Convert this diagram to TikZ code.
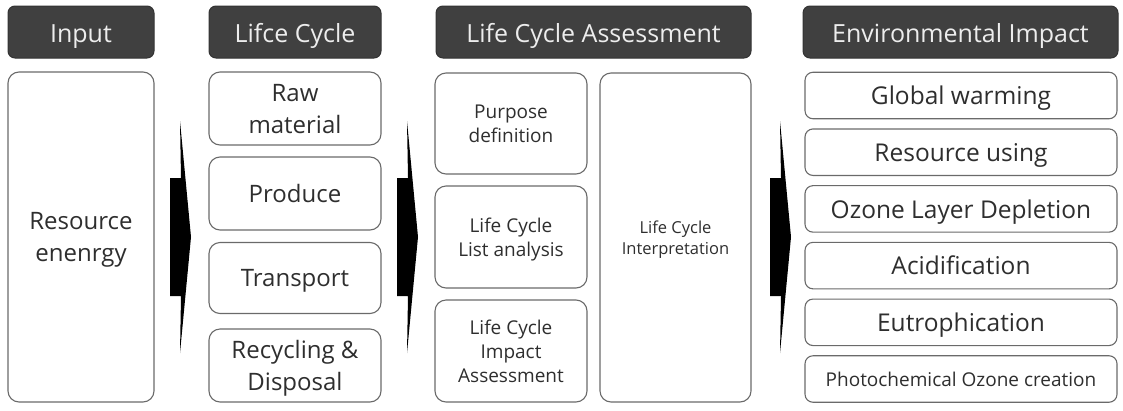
\documentclass[tikz,border=0pt]{standalone}
\usepackage{fontspec}
\setmainfont{Open Sans}
\usetikzlibrary{positioning}
\definecolor{hdrgray}{HTML}{404040}
\definecolor{txtgray}{HTML}{2E2E2E}
\definecolor{linegray}{HTML}{6A6A6A}

\begin{document}
\begin{tikzpicture}[x=1pt, y=-1pt,
  hdr/.style={draw=hdrgray!80!black, line width=1pt, fill=hdrgray, rounded corners=7pt,
    text=white!93!black, font=\fontsize{25}{30}\selectfont, minimum height=52pt,
    text height=20pt, text depth=0pt, inner sep=0pt, outer sep=0pt},
  box/.style={draw=linegray, line width=1.1pt, rounded corners=11pt, text=txtgray,
    align=center, text depth=0pt, inner sep=0pt, outer sep=0pt, font=\fontsize{24}{32}\selectfont},
  smalltxt/.style={font=\fontsize{19}{24}\selectfont},
  ]
\useasboundingbox (0,0) rectangle (1123,410);
% headers
\node[hdr, minimum width=146pt] (hinput) at (81,32) {Input};
\node[hdr, minimum width=172pt] (hcycle) at (295,32) {Lifce Cycle};
\node[hdr, minimum width=315pt] (hlca) at (593.5,32) {Life Cycle Assessment};
\node[hdr, minimum width=315pt] (henv) at (960.5,32) {Environmental Impact};
% input
\node[box, minimum width=146pt, minimum height=330pt] (input) at (81,237) {Resource\\enenrgy};
% life cycle
\node[box, minimum width=172pt, minimum height=73pt] (raw) at (295,108.5) {Raw\\material};
\node[box, minimum width=172pt, minimum height=73pt] (produce) at (295,193.5) {Produce};
\node[box, minimum width=172pt, minimum height=71pt] (transport) at (295,278) {Transport};
\node[box, minimum width=172pt, minimum height=73pt] (recycle) at (295,365.5) {Recycling \&\\Disposal};
% life cycle assessment
\node[box, smalltxt, minimum width=152pt, minimum height=101pt] (purpose) at (511,123.5) {Purpose\\definition};
\node[box, smalltxt, minimum width=152pt, minimum height=102pt] (list) at (511,237) {Life Cycle\\List analysis};
\node[box, smalltxt, minimum width=152pt, minimum height=102pt] (impact) at (511,351) {Life Cycle\\Impact\\Assessment};
\node[box, font=\fontsize{16.5}{21.5}\selectfont, minimum width=151pt, minimum height=329pt] (interp) at (675.5,237.5) {Life Cycle\\Interpretation};
% environmental impact
\foreach \t [count=\i from 0] in {Global warming, Resource using, Ozone Layer Depletion, Acidification, Eutrophication}
  \node[box, rounded corners=8pt, font=\fontsize{24.5}{30}\selectfont, minimum width=312pt, minimum height=46.5pt] (env\i) at (961,95.5+\i*56.7) {\t};
\node[box, rounded corners=8pt, smalltxt, minimum width=312pt, minimum height=46.5pt] (env5) at (961,379) {Photochemical Ozone creation};
% arrows
\foreach \ax in {170,397,770}
  \fill[black] (\ax,178) -- (\ax+11,178) -- (\ax+10,121) -- (\ax+21,237) -- (\ax+10,353) -- (\ax+11,296) -- (\ax,296) -- cycle;
\end{tikzpicture}
\end{document}
